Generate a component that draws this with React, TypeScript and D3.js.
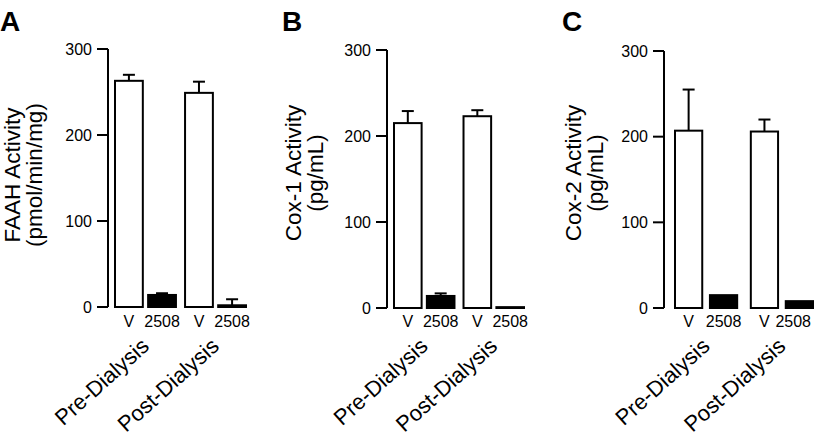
import React from "react";
import * as d3 from "d3";

const groups = ["Pre-Dialysis", "Post-Dialysis"];
const treatments = ["V", "2508"];
const panelLetters = ["A", "B", "C"];
const titleLine1 = ["FAAH Activity", "Cox-1 Activity", "Cox-2 Activity"];
const titleLine2 = ["(pmol/min/mg)", "(pg/mL)", "(pg/mL)"];
const yTicks = [0, 100, 200, 300];

// order: Pre V, Pre 2508, Post V, Post 2508
const faahMeans = [263, 14, 249, 2];
const faahErr = [7, 2, 13, 7];
const cox1Means = [215, 14, 223, 1];
const cox1Err = [14, 3, 7, 0];
const cox2Means = [207, 15, 206, 8];
const cox2Err = [48, 0, 14, 0];

const meansList = [faahMeans, cox1Means, cox2Means];
const errList = [faahErr, cox1Err, cox2Err];

const FONT = "Liberation Sans, Arial, Helvetica, sans-serif";
const W = 814;

type Layout = {
  axisX: number;
  yTop: number;
  yBottom: number;
  barsStart: number;
  barsEnd: number;
  outerPad: number;
  innerPad: number;
  letterX: number;
  title1X: number;
  title2X: number;
  titleY: number;
};

const layouts: Layout[] = [
  { axisX: 108, yTop: 49, yBottom: 307, barsStart: 115, barsEnd: 246, outerPad: 0.13, innerPad: 0.16, letterX: 0, title1X: 20, title2X: 42, titleY: 175 },
  { axisX: 387, yTop: 50, yBottom: 308, barsStart: 394, barsEnd: 524, outerPad: 0.13, innerPad: 0.16, letterX: 282, title1X: 301, title2X: 323, titleY: 173 },
  { axisX: 664, yTop: 51, yBottom: 308, barsStart: 675, barsEnd: 813, outerPad: 0.18, innerPad: 0.22, letterX: 562, title1X: 581, title2X: 603, titleY: 173 },
];

function Panel({ idx }: { idx: number }) {
  const L = layouts[idx];
  const means = meansList[idx];
  const errs = errList[idx];
  const y = d3.scaleLinear().domain([0, 300]).range([L.yBottom, L.yTop]);
  const xOuter = d3
    .scaleBand<string>()
    .domain(groups)
    .range([L.barsStart, L.barsEnd])
    .paddingInner(L.outerPad)
    .paddingOuter(0);
  const xInner = d3
    .scaleBand<string>()
    .domain(treatments)
    .range([0, xOuter.bandwidth()])
    .paddingInner(L.innerPad)
    .paddingOuter(0);

  const bars = groups.flatMap((g, gi) =>
    treatments.map((t, ti) => {
      const i = gi * 2 + ti;
      const x0 = (xOuter(g) as number) + (xInner(t) as number);
      return { g, t, i, x0, w: xInner.bandwidth(), v: means[i], e: errs[i], filled: ti === 1 };
    })
  );

  return (
    <g>
      <text x={L.letterX} y={31} fontFamily={FONT} fontWeight="bold" fontSize={28} fill="#000">
        {panelLetters[idx]}
      </text>
      <text
        transform={`translate(${L.title1X},${L.titleY}) rotate(-90)`}
        textAnchor="middle"
        fontFamily={FONT}
        fontSize={22.5}
        fill="#000"
      >
        {titleLine1[idx]}
      </text>
      <text
        transform={`translate(${L.title2X},${L.titleY}) rotate(-90)`}
        textAnchor="middle"
        fontFamily={FONT}
        fontSize={22.5}
        fill="#000"
      >
        {titleLine2[idx]}
      </text>
      {/* axis */}
      <line x1={L.axisX} x2={L.axisX} y1={y(300)} y2={y(0)} stroke="#000" strokeWidth={2} />
      {yTicks.map((t) => (
        <g key={t}>
          <line x1={L.axisX - 11} x2={L.axisX} y1={y(t)} y2={y(t)} stroke="#000" strokeWidth={2} />
          <text
            x={L.axisX - 16}
            y={y(t)}
            dy="0.35em"
            textAnchor="end"
            fontFamily={FONT}
            fontSize={16}
            fill="#000"
          >
            {t}
          </text>
        </g>
      ))}
      {/* error bars */}
      {bars
        .filter((b) => b.e > 0)
        .map((b) => {
          const cx = b.x0 + b.w / 2;
          return (
            <g key={"e" + b.i}>
              <line x1={cx} x2={cx} y1={y(b.v)} y2={y(b.v + b.e)} stroke="#000" strokeWidth={2} />
              <line x1={cx - 6} x2={cx + 6} y1={y(b.v + b.e)} y2={y(b.v + b.e)} stroke="#000" strokeWidth={2} />
            </g>
          );
        })}
      {/* bars */}
      {bars.map((b) => (
        <rect
          key={"b" + b.i}
          x={b.x0}
          y={y(b.v)}
          width={b.w}
          height={Math.max(0, y(0) - y(b.v))}
          fill={b.filled ? "#000" : "#fff"}
          stroke="#000"
          strokeWidth={2}
        />
      ))}
      {/* treatment labels */}
      {bars.map((b) => {
        const half = b.t.length * 4.45;
        const cx = Math.min(b.x0 + b.w / 2, W - 3 - half);
        return (
          <text
            key={"t" + b.i}
            x={cx}
            y={327}
            textAnchor="middle"
            fontFamily={FONT}
            fontSize={16}
            fill="#000"
          >
            {b.t}
          </text>
        );
      })}
      {/* group labels */}
      {groups.map((g) => {
        const cx = (xOuter(g) as number) + xOuter.bandwidth() / 2 + 5;
        return (
          <text
            key={g}
            transform={`translate(${cx},348) rotate(-42)`}
            textAnchor="end"
            fontFamily={FONT}
            fontSize={22}
            fill="#000"
          >
            {g}
          </text>
        );
      })}
    </g>
  );
}

export default function App() {
  return (
    <svg width={W} height={440} style={{ display: "block", position: "absolute", left: 0, top: 0, background: "#fff" }}>
      <rect width={W} height={440} fill="#fff" />
      {[0, 1, 2].map((i) => (
        <Panel key={i} idx={i} />
      ))}
    </svg>
  );
}
